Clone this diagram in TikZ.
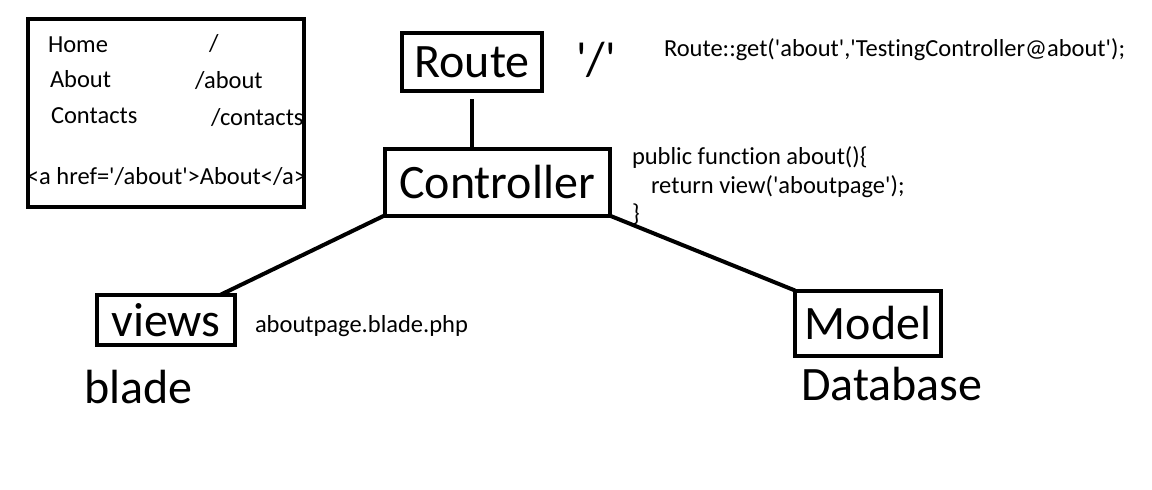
\documentclass[tikz,border=0pt]{standalone}
\usepackage{fontspec}
\setmainfont{Carlito}[Ligatures={TeXOff,CommonOff}]
\usetikzlibrary{positioning}

\begin{document}
\begin{tikzpicture}
  [x=1pt,y=-1pt,line width=4pt,
   every node/.style={inner sep=0pt,outer sep=0pt},
   small/.style={anchor=west,font=\fontsize{24.5}{28}\selectfont},
   big/.style={anchor=west,font=\fontsize{48}{52}\selectfont},
   box/.style={draw,font=\fontsize{48}{52}\selectfont}]
  \useasboundingbox (0,0) rectangle (1152,490);

  % the menu of links
  \node[draw,minimum width=276pt,minimum height=188pt] (menu) at (166,113) {};
  \node[small] (home) at (48,45) {Home};
  \node[small] (about) at (50,79) {About};
  \node[small] (contacts) at (51,116) {Contacts};
  \node[small] (homeurl) at (209,44) {/};
  \node[small] (abouturl) at (195,81) {/about};
  \node[small] (contactsurl) at (211,118) {/contacts};
  \node[small] (link) at (27,177) {<a href='/about'>About</a>};

  % the boxes
  \node[box,minimum width=140pt,minimum height=58pt] (route) at (472,62) {Route};
  \node[box,minimum width=225pt,minimum height=67pt] (controller) at (497,182) {Controller};
  \node[box,minimum width=138pt,minimum height=50pt] (views) at (166,320) {views};
  \node[box,minimum width=146pt,minimum height=65pt] (model) at (868,323) {Model};

  % the texts beside them
  \node[big] (slash) at (576,60) {'/'};
  \node[small] (get) at (664,50) {Route::get('about','TestingController@about');};
  \node[small] (fun) at (632,158) {public function about()\{};
  \node[small] (ret) at (651,187) {return view('aboutpage');};
  \node[small] (close) at (632,214) {\}};
  \node[small] (page) at (255,326) {aboutpage.blade.php};
  \node[big] (blade) at (84,387) {blade};
  \node[big] (db) at (801,384) {Database};

  \draw ([yshift=-8pt]route.south) -- (route.south |- controller.north);
  \draw (controller.south west) -- ([xshift=-15pt]views.north east);
  \draw (controller.south east) -- (model.north west);

\end{tikzpicture}
\end{document}
